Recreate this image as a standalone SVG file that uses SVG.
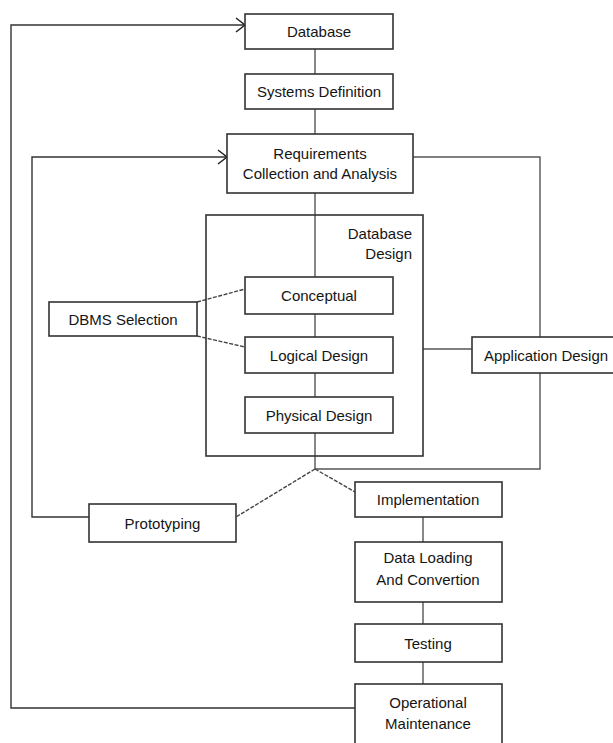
<svg xmlns="http://www.w3.org/2000/svg" width="613" height="743" viewBox="0 0 613 743">
<style>
.box{fill:#fff;stroke:#333;stroke-width:1.6}
.frame{fill:none;stroke:#333;stroke-width:1.6}
.ln{fill:none;stroke:#555;stroke-width:1.4}
.dash{fill:none;stroke:#444;stroke-width:1.4;stroke-dasharray:4 1.5}
text{font-family:"Liberation Sans",Arial,sans-serif;font-size:15px;fill:#151515;text-anchor:middle}
</style>
<defs>
<marker id="arr" markerWidth="12" markerHeight="16" refX="10" refY="8" orient="auto" markerUnits="userSpaceOnUse">
<path d="M1,1 L10,8 L1,15" fill="none" stroke="#222" stroke-width="1.5"/>
</marker>
</defs>
<rect width="613" height="743" fill="#fff"/>
<g id="connectors">
<line class="ln" x1="315" y1="49" x2="315" y2="74"/>
<line class="ln" x1="315" y1="109" x2="315" y2="134"/>
<line class="ln" x1="315" y1="193" x2="315" y2="277"/>
<line class="ln" x1="315" y1="314" x2="315" y2="337"/>
<line class="ln" x1="315" y1="373" x2="315" y2="397"/>
<line class="ln" x1="315" y1="433" x2="315" y2="469"/>
<path class="ln" d="M413,157 H540 V337"/>
<path class="ln" d="M540,373 V469 H315"/>
<line class="ln" x1="423" y1="349" x2="472" y2="349"/>
<line class="ln" x1="423" y1="517" x2="423" y2="542"/>
<line class="ln" x1="423" y1="602" x2="423" y2="624"/>
<line class="ln" x1="423" y1="662" x2="423" y2="684"/>
<path class="ln" d="M355,708 H11 V25 H245" marker-end="url(#arr)" style="stroke:#333"/>
<path class="ln" d="M89,517 H32 V157 H227" marker-end="url(#arr)" style="stroke:#333"/>
<line class="dash" x1="197" y1="302" x2="245" y2="289"/>
<line class="dash" x1="197" y1="336" x2="245" y2="347"/>
<line class="dash" x1="315" y1="469" x2="236" y2="517"/>
<line class="dash" x1="315" y1="469" x2="355" y2="492"/>
</g>
<g id="database"><rect class="box" x="245" y="14" width="148" height="35"/><text x="319" y="37">Database</text></g>
<g id="systems-definition"><rect class="box" x="245" y="74" width="148" height="35"/><text x="319" y="97">Systems Definition</text></g>
<g id="requirements"><rect class="box" x="227" y="134" width="186" height="59"/><text x="320" y="159">Requirements</text><text x="320" y="179">Collection and Analysis</text></g>
<g id="database-design"><rect class="frame" x="206" y="215" width="217" height="241"/><text x="412" y="239" style="text-anchor:end">Database</text><text x="412" y="259" style="text-anchor:end">Design</text></g>
<g id="conceptual"><rect class="box" x="245" y="277" width="148" height="37"/><text x="319" y="301">Conceptual</text></g>
<g id="logical-design"><rect class="box" x="245" y="337" width="148" height="36"/><text x="319" y="361">Logical Design</text></g>
<g id="physical-design"><rect class="box" x="245" y="397" width="148" height="36"/><text x="319" y="421">Physical Design</text></g>
<g id="dbms-selection"><rect class="box" x="49" y="302" width="148" height="34"/><text x="123" y="325">DBMS Selection</text></g>
<g id="application-design"><rect class="box" x="472" y="337" width="145" height="36"/><text x="546" y="361">Application Design</text></g>
<g id="prototyping"><rect class="box" x="89" y="504" width="147" height="38"/><text x="162.5" y="529">Prototyping</text></g>
<g id="implementation"><rect class="box" x="355" y="482" width="147" height="35"/><text x="428" y="505">Implementation</text></g>
<g id="data-loading"><rect class="box" x="355" y="542" width="147" height="60"/><text x="428" y="563">Data Loading</text><text x="428" y="585">And Convertion</text></g>
<g id="testing"><rect class="box" x="355" y="624" width="147" height="38"/><text x="428" y="649">Testing</text></g>
<g id="operational-maintenance"><rect class="box" x="355" y="684" width="147" height="65"/><text x="428" y="708">Operational</text><text x="428" y="729">Maintenance</text></g>
</svg>
